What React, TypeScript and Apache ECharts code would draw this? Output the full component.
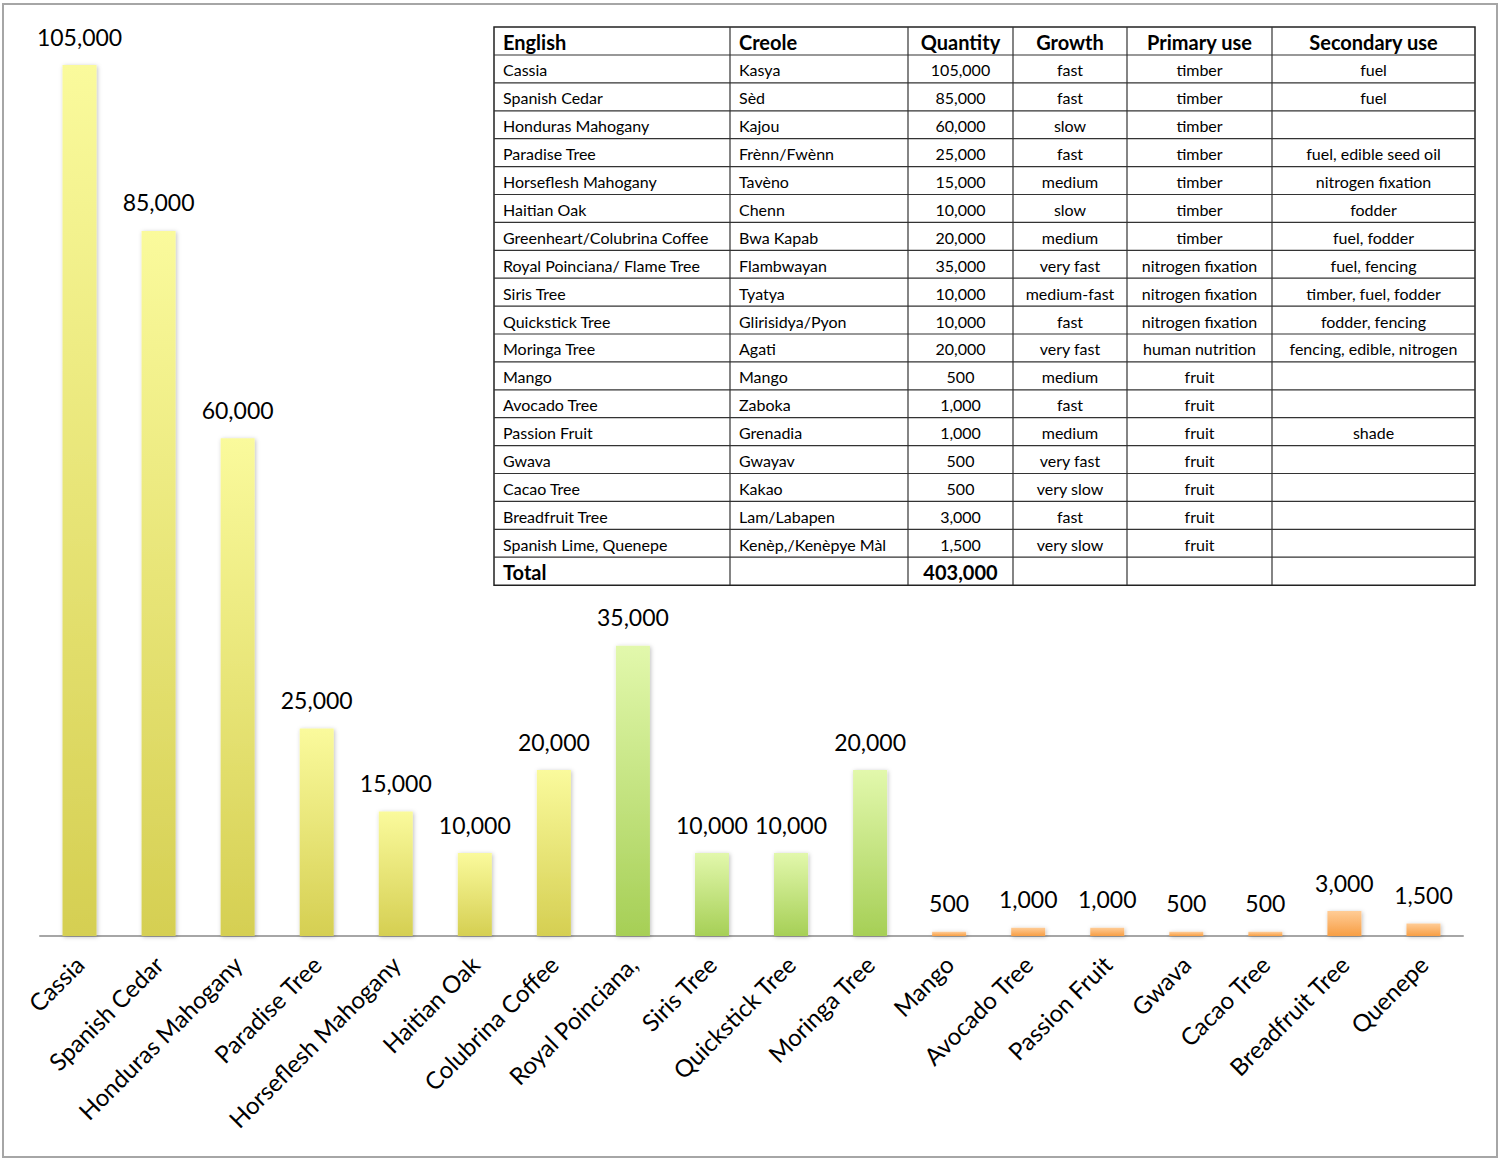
import React, { useEffect, useRef } from "react";
import * as echarts from "echarts";

const categories = [
  "Cassia", "Spanish Cedar", "Honduras Mahogany", "Paradise Tree", "Horseflesh Mahogany",
  "Haitian Oak", "Colubrina Coffee", "Royal Poinciana,", "Siris Tree", "Quickstick Tree",
  "Moringa Tree", "Mango", "Avocado Tree", "Passion Fruit", "Gwava", "Cacao Tree",
  "Breadfruit Tree", "Quenepe",
];
const quantities = [105000, 85000, 60000, 25000, 15000, 10000, 20000, 35000, 10000, 10000, 20000, 500, 1000, 1000, 500, 500, 3000, 1500];
// group: 0 = timber (yellow), 1 = nitrogen / nutrition (green), 2 = fruit (orange)
const groups = [0, 0, 0, 0, 0, 0, 0, 1, 1, 1, 1, 2, 2, 2, 2, 2, 2, 2];

const tableHeader = ["English", "Creole", "Quantity", "Growth", "Primary use", "Secondary use"];
const tableEnglish = [
  "Cassia", "Spanish Cedar", "Honduras Mahogany", "Paradise Tree", "Horseflesh Mahogany", "Haitian Oak",
  "Greenheart/Colubrina Coffee", "Royal Poinciana/ Flame Tree", "Siris Tree", "Quickstick Tree", "Moringa Tree",
  "Mango", "Avocado Tree", "Passion Fruit", "Gwava", "Cacao Tree", "Breadfruit Tree", "Spanish Lime, Quenepe",
];
const tableCreole = [
  "Kasya", "Sèd", "Kajou", "Frènn/Fwènn", "Tavèno", "Chenn", "Bwa Kapab", "Flambwayan", "Tyatya",
  "Glirisidya/Pyon", "Agati", "Mango", "Zaboka", "Grenadia", "Gwayav", "Kakao", "Lam/Labapen", "Kenèp,/Kenèpye Màl",
];
const tableGrowth = [
  "fast", "fast", "slow", "fast", "medium", "slow", "medium", "very fast", "medium-fast", "fast", "very fast",
  "medium", "fast", "medium", "very fast", "very slow", "fast", "very slow",
];
const tablePrimary = [
  "timber", "timber", "timber", "timber", "timber", "timber", "timber", "nitrogen fixation", "nitrogen fixation",
  "nitrogen fixation", "human nutrition", "fruit", "fruit", "fruit", "fruit", "fruit", "fruit", "fruit",
];
const tableSecondary = [
  "fuel", "fuel", "", "fuel, edible seed oil", "nitrogen fixation", "fodder", "fuel, fodder", "fuel, fencing",
  "timber, fuel, fodder", "fodder, fencing", "fencing, edible, nitrogen", "", "", "shade", "", "", "", "",
];
const totalLabel = "Total";
const totalValue = "403,000";

const FONT = "Lato, 'Open Sans', sans-serif";

const gradients = [
  ["#FAFA9C", "#D5CF52"],
  ["#E2F8AC", "#A6CF56"],
  ["#FFCC96", "#F79E44"],
];

function fmt(v: number) {
  return v.toLocaleString("en-US");
}

export default function App() {
  const ref = useRef<HTMLDivElement>(null);
  useEffect(() => {
    document.body.style.margin = "0";
    const chart = echarts.init(ref.current!, null, { renderer: "svg" });

    // table geometry
    const colX = [494, 730, 908, 1013, 1127, 1272, 1475];
    const top = 27;
    const headH = 28;
    const rowH = 27.9;
    const nRows = tableEnglish.length;
    const bottom = top + headH + rowH * nRows + headH;
    const els: any[] = [];
    els.push({ type: "rect", shape: { x: colX[0], y: top, width: colX[6] - colX[0], height: bottom - top }, style: { fill: "#fff", stroke: "#222", lineWidth: 1.5 } });
    const rowTops: number[] = [top];
    for (let i = 0; i <= nRows; i++) rowTops.push(top + headH + rowH * i);
    for (let i = 1; i < rowTops.length; i++) {
      els.push({ type: "line", shape: { x1: colX[0], y1: rowTops[i], x2: colX[6], y2: rowTops[i] }, style: { stroke: "#333", lineWidth: 1.2 } });
    }
    for (let c = 1; c < 6; c++) {
      els.push({ type: "line", shape: { x1: colX[c], y1: top, x2: colX[c], y2: bottom }, style: { stroke: "#333", lineWidth: 1.2 } });
    }
    const cellText = (text: string, c: number, yMid: number, bold: boolean, size: number) => {
      if (!text) return;
      const left = c <= 1;
      els.push({
        type: "text",
        x: left ? colX[c] + 9 : (colX[c] + colX[c + 1]) / 2,
        y: yMid,
        style: {
          text, fill: "#000", font: `${bold ? "bold " : ""}${size}px ${FONT}`,
          textAlign: left ? "left" : "center", textVerticalAlign: "middle",
        },
      });
    };
    tableHeader.forEach((h, c) => cellText(h, c, top + headH / 2 + 1, true, 20));
    for (let r = 0; r < nRows; r++) {
      const yMid = top + headH + rowH * r + rowH / 2 + 1;
      const vals = [tableEnglish[r], tableCreole[r], fmt(quantities[r]), tableGrowth[r], tablePrimary[r], tableSecondary[r]];
      vals.forEach((v, c) => cellText(v, c, yMid, false, 16));
    }
    const totMid = top + headH + rowH * nRows + headH / 2 + 1;
    cellText(totalLabel, 0, totMid, true, 20);
    cellText(totalValue, 2, totMid, true, 20);

    els.push({ type: "rect", silent: true, shape: { x: 3, y: 4, width: 1494, height: 1153 }, style: { fill: "none", stroke: "#A6A6A6", lineWidth: 2 } });

    chart.setOption({
      animation: false,
      backgroundColor: "#fff",
      grid: { left: 40, right: 37, top: 65, bottom: 224, containLabel: false },
      xAxis: {
        type: "category",
        data: categories,
        axisLine: { lineStyle: { color: "#A6A6A6", width: 2 } },
        axisTick: { show: false },
        axisLabel: { rotate: 45, fontSize: 24, color: "#000", fontFamily: FONT, margin: 24, interval: 0 },
      },
      yAxis: { type: "value", min: 0, max: 105000, show: false, splitLine: { show: false } },
      series: [
        {
          type: "bar",
          barWidth: 34,
          data: quantities.map((v, i) => ({
            value: v,
            itemStyle: {
              color: new echarts.graphic.LinearGradient(0, 0, 0, 1, [
                { offset: 0, color: gradients[groups[i]][0] },
                { offset: 1, color: gradients[groups[i]][1] },
              ]),
              shadowColor: "rgba(0,0,0,0.25)",
              shadowBlur: 4,
              shadowOffsetX: 1,
              shadowOffsetY: 1,
            },
          })),
          label: {
            show: true,
            position: "top",
            distance: 17,
            fontSize: 23,
            color: "#000",
            fontFamily: FONT,
            formatter: (p: any) => fmt(p.value),
          },
        },
      ],
      graphic: els,
    });
    return () => chart.dispose();
  }, []);
  return <div ref={ref} style={{ width: 1500, height: 1160 }} />;
}
